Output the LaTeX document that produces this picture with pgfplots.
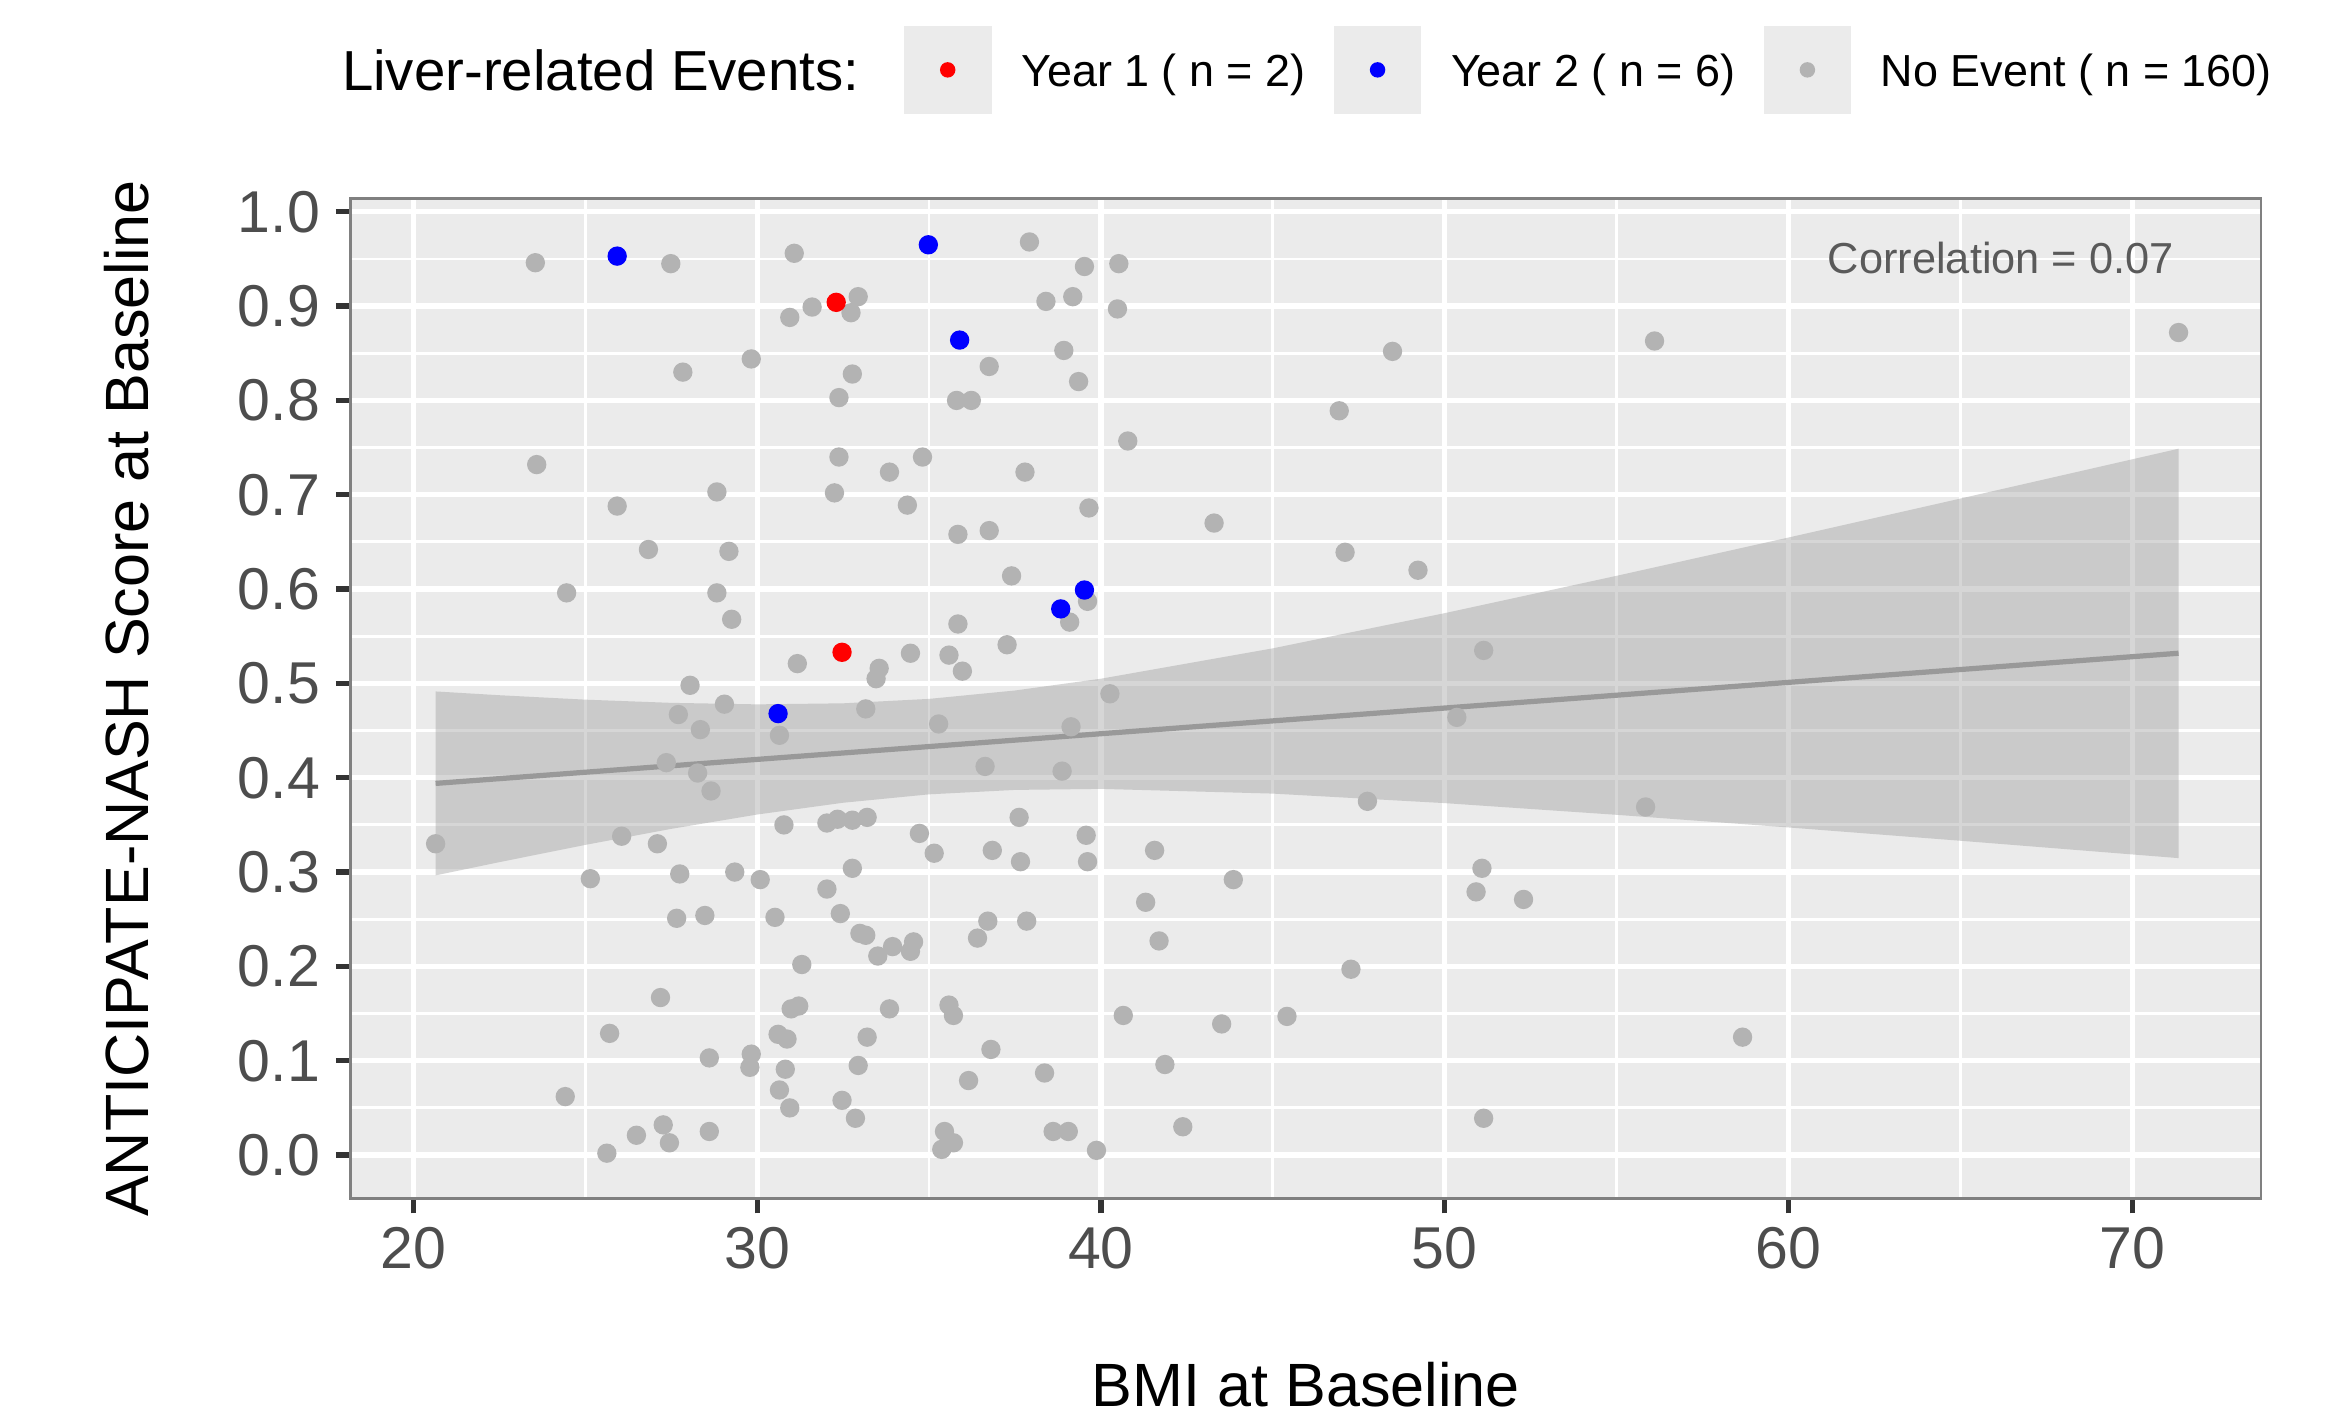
\documentclass[border=0pt]{standalone}
\usepackage{pgfplots}
\pgfplotsset{compat=1.18}
\usepackage{fontspec}
\setmainfont{Liberation Sans}
\usetikzlibrary{calc}

\definecolor{panelbg}{HTML}{EBEBEB}
\definecolor{ptgray}{HTML}{B3B3B3}
\definecolor{ticktext}{HTML}{4D4D4D}
\definecolor{tickcol}{HTML}{333333}
\definecolor{bandcol}{HTML}{999999}
\definecolor{corrcol}{HTML}{5A5A5A}
\definecolor{ptred}{HTML}{FF0000}
\definecolor{ptblue}{HTML}{0000FF}

% no event points
\pgfplotstableread{
x y
23.55 0.946
27.49 0.945
31.08 0.956
37.92 0.968
39.52 0.942
40.52 0.945
32.94 0.910
31.60 0.899
30.95 0.888
32.73 0.893
38.40 0.905
39.18 0.910
40.48 0.897
29.83 0.844
27.84 0.830
32.77 0.828
38.92 0.853
36.75 0.836
39.35 0.820
48.48 0.852
56.10 0.863
71.34 0.872
32.38 0.803
35.80 0.800
36.23 0.800
46.93 0.789
40.78 0.757
23.59 0.732
32.38 0.740
34.81 0.740
33.85 0.724
37.79 0.724
28.83 0.703
32.25 0.702
25.93 0.688
34.37 0.689
39.65 0.686
43.29 0.670
35.84 0.658
36.75 0.662
26.84 0.642
29.18 0.640
47.10 0.639
49.22 0.620
37.40 0.614
24.46 0.596
28.83 0.596
39.61 0.587
39.09 0.565
29.26 0.568
35.84 0.563
37.27 0.541
35.58 0.530
34.46 0.532
31.17 0.521
33.55 0.516
35.97 0.513
33.46 0.505
51.13 0.535
28.05 0.498
40.26 0.489
33.16 0.473
29.05 0.478
27.71 0.467
35.28 0.457
39.13 0.454
50.35 0.464
28.35 0.451
30.65 0.445
27.36 0.416
36.63 0.412
38.87 0.407
28.27 0.405
28.66 0.386
47.75 0.375
55.84 0.369
37.62 0.358
33.20 0.358
32.34 0.356
32.77 0.355
32.03 0.352
30.78 0.350
26.06 0.338
39.57 0.339
34.72 0.341
20.65 0.330
27.10 0.330
36.84 0.323
35.15 0.320
41.56 0.323
37.66 0.311
39.61 0.311
32.77 0.304
51.08 0.304
27.75 0.298
29.35 0.300
25.15 0.293
30.09 0.292
43.85 0.292
32.03 0.282
50.91 0.279
52.29 0.271
41.30 0.268
32.42 0.256
28.48 0.254
27.66 0.251
30.52 0.252
36.71 0.248
37.84 0.248
32.99 0.235
33.16 0.233
36.41 0.230
34.55 0.226
33.94 0.221
41.69 0.227
33.51 0.211
34.46 0.216
31.30 0.202
47.27 0.197
27.19 0.167
35.58 0.159
31.21 0.158
30.99 0.155
33.85 0.155
35.71 0.148
40.65 0.148
45.41 0.147
43.51 0.139
25.71 0.129
30.61 0.128
30.87 0.123
33.20 0.125
58.66 0.125
36.80 0.112
29.83 0.107
28.61 0.103
29.79 0.093
30.82 0.091
32.94 0.095
41.86 0.096
38.36 0.087
36.15 0.079
30.65 0.069
24.42 0.062
32.47 0.058
30.95 0.050
32.86 0.039
51.13 0.039
27.27 0.032
35.45 0.025
42.38 0.030
38.61 0.025
39.05 0.025
28.61 0.025
26.49 0.021
27.45 0.013
35.71 0.013
25.63 0.002
35.37 0.006
39.87 0.005
}\noevent

\pgfplotstableread{
x y
32.30 0.904
32.47 0.533
}\yearone

\pgfplotstableread{
x y
25.93 0.953
34.98 0.965
35.89 0.864
39.52 0.599
38.83 0.579
30.61 0.468
}\yeartwo

% confidence band of the linear fit (upper edge left to right, lower edge back)
\pgfplotstableread{
x y
20.65 0.4915
22.50 0.4875
25.00 0.4828
27.50 0.4794
30.00 0.4778
32.50 0.4789
35.00 0.4836
37.50 0.4925
40.00 0.5050
45.00 0.5372
50.00 0.5745
55.00 0.6141
60.00 0.6547
65.00 0.6960
71.34 0.7488
71.34 0.3148
65.00 0.3332
60.00 0.3473
55.00 0.3607
50.00 0.3731
45.00 0.3832
40.00 0.3882
37.50 0.3871
35.00 0.3824
32.50 0.3735
30.00 0.3610
27.50 0.3458
25.00 0.3288
22.50 0.3105
20.65 0.2965
}\band

\begin{document}
\begin{tikzpicture}
\begin{axis}[
  width=12.856cm, height=6.73cm, scale only axis,
  xmin=18.18, xmax=73.74, ymin=-0.046, ymax=1.0142,
  axis background/.style={fill=panelbg},
  axis line style={draw=black!50, line width=0.5pt},
  xtick={20,30,40,50,60,70},
  xticklabels={20,30,40,50,60,70},
  ytick={0,0.1,0.2,0.3,0.4,0.5,0.6,0.7,0.8,0.9,1},
  yticklabels={0.0,0.1,0.2,0.3,0.4,0.5,0.6,0.7,0.8,0.9,1.0},
  minor xtick={25,35,45,55,65},
  minor ytick={0.05,0.15,0.25,0.35,0.45,0.55,0.65,0.75,0.85,0.95},
  grid=both,
  major grid style={white, line width=1pt},
  minor grid style={white, line width=0.55pt},
  tick align=outside,
  major tick length=0.1cm, minor tick length=0pt,
  tick style={tickcol, line width=1pt},
  xtick pos=bottom, ytick pos=left,
  tick label style={font=\fontsize{11.3}{13}\selectfont, text=ticktext, inner sep=0pt},
  yticklabel style={anchor=east},
  xticklabel style={anchor=north},
  xticklabel shift=0.09cm, yticklabel shift=0.1cm,
  label style={font=\fontsize{11.7}{14}\selectfont, text=black},
  xlabel={BMI at Baseline},
  ylabel={ANTICIPATE-NASH Score at Baseline},
  xlabel style={at={(axis description cs:0.5,-0.1865)}, anchor=center},
  ylabel style={at={(axis description cs:-0.1175,0.5)}, anchor=center},
  legend columns=-1,
  legend style={
    at={(0.5005,1.1285)}, anchor=center, draw=none, fill=none,
    inner sep=0pt, column sep=0pt,
    font=\fontsize{8.6}{10.3}\selectfont,
    nodes={inner sep=0pt, text depth=0pt},
    cells={anchor=west},
  },
]
\addplot[only marks, color=ptgray, mark=*, mark size=1.65pt, forget plot] table {\noevent};
\addplot[only marks, color=ptred, mark=*, mark size=1.65pt, forget plot] table {\yearone};
\addplot[only marks, color=ptblue, mark=*, mark size=1.65pt, forget plot] table {\yeartwo};

\addplot[fill=bandcol, fill opacity=0.4, draw=none, forget plot] table {\band};
\addplot[color=bandcol, line width=1pt, forget plot] coordinates {(20.65,0.394) (71.34,0.532)};

\node[font=\fontsize{8.3}{10}\selectfont, text=corrcol] at (axis cs:66.17,0.9507) {Correlation = 0.07};

\addlegendimage{empty legend}
\addlegendentry{\fontsize{10.8}{13}\selectfont Liver-related Events:}
\addlegendimage{legend image code/.code={
  \path[draw=none, fill=none] (-0.30cm,0) rectangle (0.79cm,0.01cm);
  \fill[panelbg, draw=none] (0cm,-0.295cm) rectangle (0.59cm,0.295cm);
  \fill[ptred, draw=none] (0.295cm,0cm) circle (0.052cm);}}
\addlegendentry{Year 1 ( n = 2)}
\addlegendimage{legend image code/.code={
  \path[draw=none, fill=none] (-0.19cm,0) rectangle (0.79cm,0.01cm);
  \fill[panelbg, draw=none] (0cm,-0.295cm) rectangle (0.59cm,0.295cm);
  \fill[ptblue, draw=none] (0.295cm,0cm) circle (0.052cm);}}
\addlegendentry{Year 2 ( n = 6)}
\addlegendimage{legend image code/.code={
  \path[draw=none, fill=none] (-0.19cm,0) rectangle (0.79cm,0.01cm);
  \fill[panelbg, draw=none] (0cm,-0.295cm) rectangle (0.59cm,0.295cm);
  \fill[ptgray, draw=none] (0.295cm,0cm) circle (0.052cm);}}
\addlegendentry{No Event ( n = 160)}
\end{axis}
\pgfresetboundingbox
\path ([shift={(-2.36cm,-1.455cm)}]current axis.south west) rectangle ([shift={(0.464cm,1.335cm)}]current axis.north east);
\end{tikzpicture}
\end{document}
